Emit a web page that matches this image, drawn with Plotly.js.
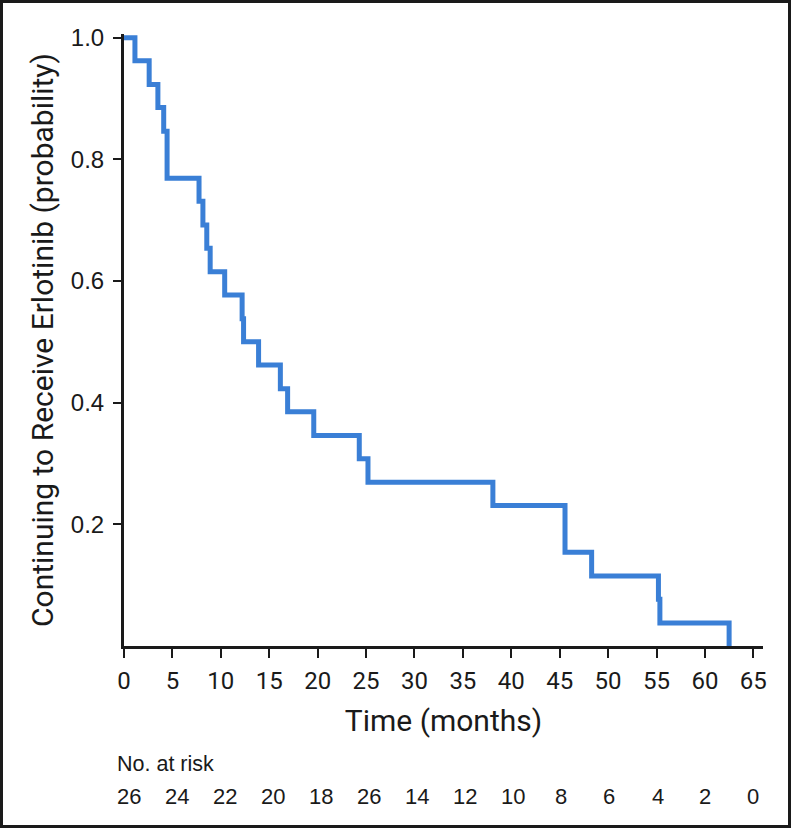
<!DOCTYPE html>
<html>
<head>
<meta charset="utf-8">
<script src="https://cdn.plot.ly/plotly-3.0.1.min.js"></script>
<style>
  html, body { margin: 0; padding: 0; background: #fff; }
  #wrap { position: relative; width: 794px; height: 829px; }
  #chart { width: 794px; height: 829px; }
  #frame { position: absolute; left: 0; top: 0; width: 791px; height: 828px;
           box-sizing: border-box; border: 3px solid #1a1a1a; pointer-events: none; }
</style>
</head>
<body>
<div id="wrap">
  <div id="chart"></div>
  <div id="frame"></div>
</div>
<script>
// Kaplan-Meier step curve (time in months, probability continuing erlotinib)
const times = [0, 1.13, 2.6, 3.5, 4.1, 4.45, 7.75, 8.15, 8.55, 8.9, 10.4, 12.2, 12.35, 13.9, 16.15, 16.9, 19.6, 24.3, 25.2, 38.1, 45.55, 48.3, 55.2, 55.35, 62.5];
const survival = [1.0, 0.962, 0.923, 0.885, 0.846, 0.769, 0.731, 0.692, 0.654, 0.615, 0.577, 0.538, 0.500, 0.462, 0.423, 0.385, 0.346, 0.308, 0.269, 0.231, 0.154, 0.115, 0.077, 0.038, 0.0];

// Number at risk table
const riskTimes = [0, 5, 10, 15, 20, 25, 30, 35, 40, 45, 50, 55, 60, 65];
const riskCounts = ["26", "24", "22", "20", "18", "26", "14", "12", "10", "8", "6", "4", "2", "0"];

// Axis ticks
const xTicks = [0, 5, 10, 15, 20, 25, 30, 35, 40, 45, 50, 55, 60, 65];
const yTicks = [0.2, 0.4, 0.6, 0.8, 1.0];
const yTickText = ["0.2", "0.4", "0.6", "0.8", "1.0"];

const condensed = "Roboto, 'Liberation Sans Narrow', Arial, sans-serif";
const plain = "'Liberation Sans', Arial, sans-serif";
const ink = "#1a1a1a";

const trace = {
  x: times, y: survival, type: "scatter", mode: "lines",
  line: { shape: "hv", color: "#3a7fd6", width: 5 },
  hoverinfo: "skip", showlegend: false
};

const annotations = riskTimes.map((t, i) => ({
  x: t, xref: "x", y: -0.2467, yref: "paper",
  text: riskCounts[i], showarrow: false,
  xanchor: "center", yanchor: "middle",
  xshift: Math.round(5 - 0.4 * i),
  font: { family: plain, size: 22, color: ink }
}));
annotations.push({
  x: -0.0141, xref: "paper", y: -0.1928, yref: "paper",
  text: "No. at risk", showarrow: false, xanchor: "left", yanchor: "middle",
  font: { family: plain, size: 21.5, color: ink }
});

const layout = {
  width: 794, height: 829,
  margin: { l: 124, r: 31, t: 34, b: 183 },
  paper_bgcolor: "#fff", plot_bgcolor: "#fff",
  showlegend: false,
  xaxis: {
    range: [0, 66], tickvals: xTicks, ticktext: xTicks.map(String),
    ticks: "outside", ticklen: 9, tickwidth: 2, tickcolor: ink,
    showline: true, linecolor: ink, linewidth: 3,
    showgrid: false, zeroline: false,
    tickfont: { family: condensed, size: 24, color: ink },
    ticklabelstandoff: 2,
    title: { text: "Time (months)", font: { family: condensed, size: 30, color: ink }, standoff: 17 },
    automargin: false
  },
  yaxis: {
    range: [0, 1.006], tickvals: yTicks, ticktext: yTickText,
    ticks: "outside", ticklen: 8, tickwidth: 2, tickcolor: ink,
    showline: true, linecolor: ink, linewidth: 3,
    showgrid: false, zeroline: false,
    tickfont: { family: plain, size: 24, color: ink },
    ticklabelstandoff: 4,
    title: { text: "Continuing to Receive Erlotinib (probability)", font: { family: condensed, size: 30, color: ink }, standoff: 9 },
    automargin: false
  },
  annotations: annotations
};

Plotly.newPlot("chart", [trace], layout, { displayModeBar: false, staticPlot: true });
</script>
</body>
</html>
